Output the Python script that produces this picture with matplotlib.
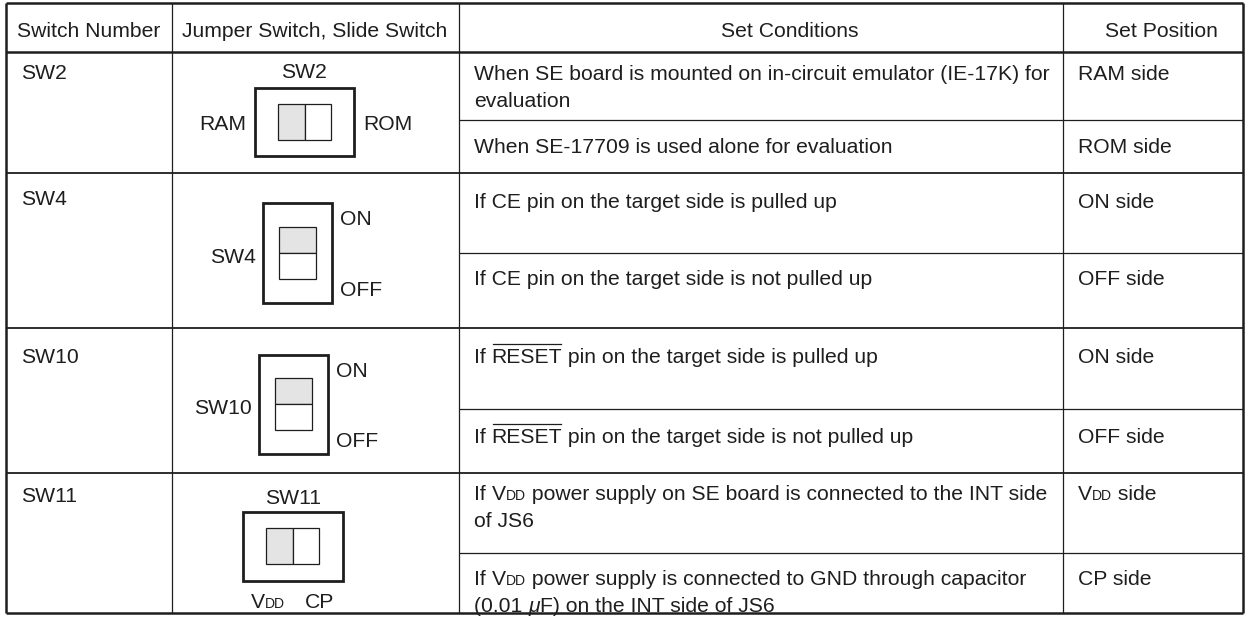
import re
import matplotlib
matplotlib.use("Agg")
import matplotlib.pyplot as plt
from matplotlib.patches import Rectangle

plt.rcParams['font.family'] = ['Liberation Sans', 'DejaVu Sans']

# ---- table content ----
headers = ["Switch Number", "Jumper Switch, Slide Switch", "Set Conditions", "Set Position"]
switches = ["SW2", "SW4", "SW10", "SW11"]
conditions = [
    ["When SE board is mounted on in-circuit emulator (IE-17K) for\nevaluation",
     "When SE-17709 is used alone for evaluation"],
    ["If CE pin on the target side is pulled up",
     "If CE pin on the target side is not pulled up"],
    ["If RESET pin on the target side is pulled up",
     "If RESET pin on the target side is not pulled up"],
    ["If VDD power supply on SE board is connected to the INT side\nof JS6",
     "If VDD power supply is connected to GND through capacitor\n(0.01 μF) on the INT side of JS6"],
]
positions = [["RAM side", "ROM side"], ["ON side", "OFF side"],
             ["ON side", "OFF side"], ["VDD side", "CP side"]]
side_labels = [("RAM", "ROM"), ("ON", "OFF"), ("ON", "OFF"), ("VDD", "CP")]
orient = ["h", "v", "v", "h"]

# ---- layout (pixels) ----
W, H = 1246, 617
col_x = [6, 172, 459, 1063, 1243]
row_y = [3, 52, 173, 328, 473, 613]
sub_y = [120, 253, 409, 553]
head_cx = [89, 315, 790, 1161]
label_y = [71, 197, 355, 494]
first_off = [20, 27, 27, 19]
second_off = [25, 24, 26, 24]
FS = 15.2
LINE = 27
DARK = '#1e1e1e'

fig = plt.figure(figsize=(W / 100, H / 100), dpi=100)
ax = fig.add_axes([0, 0, 1, 1])
ax.set_xlim(0, W)
ax.set_ylim(H, 0)
ax.axis('off')
renderer = fig.canvas.get_renderer()


def seg_width(s, size, style='normal'):
    # width incl. spaces: measure between two bars
    t1 = ax.text(0, 0, '|' + s + '|', fontsize=size, style=style)
    t2 = ax.text(0, 0, '||', fontsize=size, style=style)
    w = t1.get_window_extent(renderer).width - t2.get_window_extent(renderer).width
    t1.remove()
    t2.remove()
    return w


def rich(x, yc, s, size=FS, ha='left'):
    parts = [p for p in re.split(r'(VDD|RESET|μ)', s) if p]
    widths = []
    for p in parts:
        if p == 'VDD':
            widths.append(seg_width('V', size) + seg_width('DD', size * 0.66))
        elif p == 'μ':
            widths.append(seg_width('μ', size, 'italic'))
        else:
            widths.append(seg_width(p, size))
    if ha == 'center':
        x -= sum(widths) / 2
    elif ha == 'right':
        x -= sum(widths)
    yb = yc + 0.36 * size * 100 / 72
    kw = dict(va='baseline', color=DARK)
    for p, w in zip(parts, widths):
        if p == 'VDD':
            ax.text(x, yb, 'V', fontsize=size, **kw)
            ax.text(x + seg_width('V', size), yb, 'DD', fontsize=size * 0.66, **kw)
        elif p == 'μ':
            ax.text(x, yb, 'μ', fontsize=size, style='italic', **kw)
        else:
            ax.text(x, yb, p, fontsize=size, **kw)
            if p == 'RESET':
                cap = 0.72 * size * 100 / 72
                ax.plot([x + 1, x + w - 1], [yb - cap - 3] * 2, color=DARK, lw=0.9)
        x += w


def hline(y, x0, x1, lw):
    ax.plot([x0, x1], [y, y], color=DARK, lw=lw, solid_capstyle='butt')


def vline(x, y0, y1, lw):
    ax.plot([x, x], [y0, y1], color=DARK, lw=lw, solid_capstyle='butt')


# ---- grid ----
for i, y in enumerate(row_y):
    hline(y, col_x[0], col_x[-1], 1.8 if i in (0, 1, len(row_y) - 1) else 1.3)
for y in sub_y:
    hline(y, col_x[2], col_x[-1], 0.9)
for i, x in enumerate(col_x):
    vline(x, row_y[0], row_y[-1], 1.8 if i in (0, len(col_x) - 1) else 0.9)

# ---- header ----
hy = (row_y[0] + row_y[1]) / 2 + 2
for j, h in enumerate(headers):
    rich(head_cx[j], hy, h, ha='center')

# ---- rows ----
for i, sw in enumerate(switches):
    top = row_y[i + 1]
    rich(col_x[0] + 15, label_y[i], sw)
    ys = [top + first_off[i], sub_y[i] + second_off[i]]
    for k in range(2):
        for n, line in enumerate(conditions[i][k].split('\n')):
            rich(col_x[2] + 15, ys[k] + n * LINE, line)
        rich(col_x[3] + 15, ys[k], positions[i][k])


# ---- switch diagrams ----
def box(x0, y0, x1, y1, lw, fc='none'):
    ax.add_patch(Rectangle((x0, y0), x1 - x0, y1 - y0, fill=fc != 'none',
                           facecolor=fc, edgecolor=DARK, lw=lw))


GRAY = '#e4e4e4'
diag = [
    # outer box, inner box
    dict(o=(255, 88, 354, 156), i=(278, 104, 331, 140)),
    dict(o=(263, 203, 332, 303), i=(279, 227, 316, 279)),
    dict(o=(259, 355, 328, 454), i=(275, 378, 312, 430)),
    dict(o=(243, 512, 343, 581), i=(266, 528, 319, 564)),
]
for i, d in enumerate(diag):
    ox0, oy0, ox1, oy1 = d['o']
    ix0, iy0, ix1, iy1 = d['i']
    box(ox0, oy0, ox1, oy1, 2.0)
    if orient[i] == 'h':
        xm = (ix0 + ix1) / 2
        box(ix0, iy0, xm, iy1, 0.9, GRAY)
        box(xm, iy0, ix1, iy1, 0.9, 'white')
    else:
        ym = (iy0 + iy1) / 2
        box(ix0, iy0, ix1, ym, 0.9, GRAY)
        box(ix0, ym, ix1, iy1, 0.9, 'white')
    a, b = side_labels[i]
    if i == 0:
        rich((ox0 + ox1) / 2, 70, switches[i], ha='center')
        rich(ox0 - 9, (oy0 + oy1) / 2, a, ha='right')
        rich(ox1 + 9, (oy0 + oy1) / 2, b)
    elif i == 3:
        rich((ox0 + ox1) / 2, 496, switches[i], ha='center')
        rich(ox0 + 8, 600, a)
        rich(ox0 + 62, 600, b)
    else:
        rich(ox0 - 7, (oy0 + oy1) / 2 + 2, switches[i], ha='right')
        rich(ox1 + 8, oy0 + 14, a)
        rich(ox1 + 8, oy1 - 15, b)

fig.savefig('out.png', dpi=100)
